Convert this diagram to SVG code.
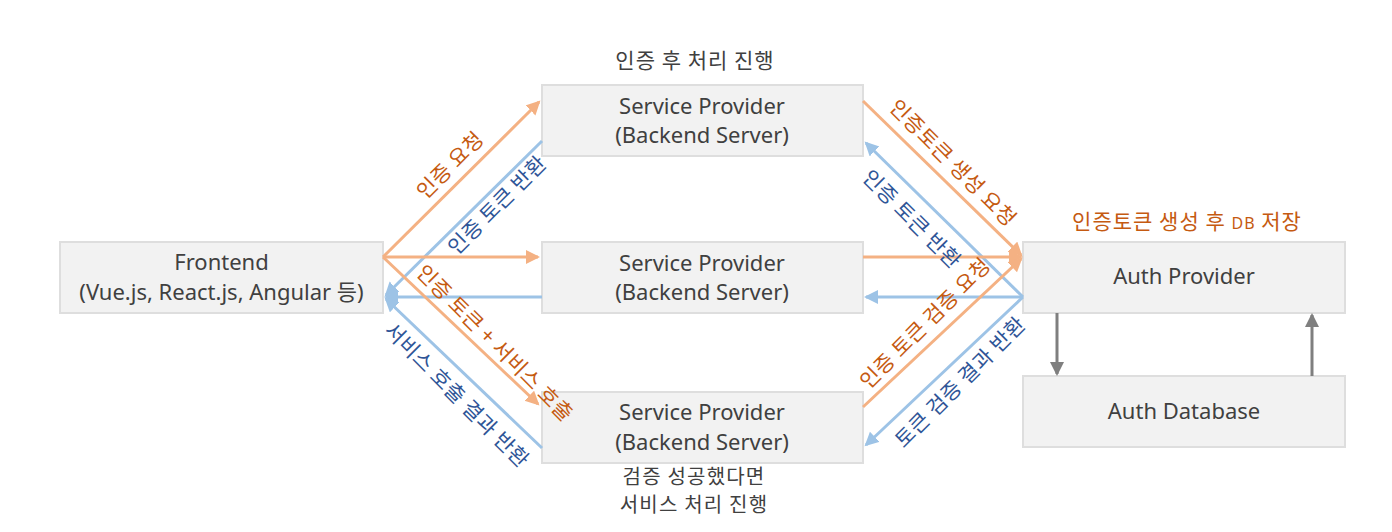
<svg xmlns="http://www.w3.org/2000/svg" width="1392" height="532" viewBox="0 0 1392 532">
<style>
.box{fill:#f2f2f2;stroke:#dedede;stroke-width:2}
.nt{font-family:"Noto Sans","Noto Sans CJK KR",sans-serif;font-size:22px;fill:#404040;text-anchor:middle}
.cap{font-family:"Noto Sans CJK KR","Noto Sans",sans-serif;font-size:21px;letter-spacing:1px;fill:#404040;text-anchor:middle}
.cap2{font-family:"Noto Sans CJK KR","Noto Sans",sans-serif;font-size:20px;letter-spacing:1.2px;fill:#404040;text-anchor:middle}
.lo{font-family:"Noto Sans CJK KR",sans-serif;font-size:21px;letter-spacing:0.5px;fill:#c55a11;text-anchor:middle}
.lb{font-family:"Noto Sans CJK KR",sans-serif;font-size:21px;letter-spacing:0.5px;fill:#2f5597;text-anchor:middle}
.o{stroke:#f4b183;stroke-width:3;fill:none;marker-end:url(#ao)}
.b{stroke:#9dc3e6;stroke-width:3;fill:none;marker-end:url(#ab)}
.g{stroke:#7f7f7f;stroke-width:3;fill:none;marker-end:url(#ag)}
</style>
<defs>
<marker id="ao" markerUnits="userSpaceOnUse" markerWidth="15" markerHeight="15" refX="12" refY="7" orient="auto"><path d="M0,0 L14,7 L0,14 z" fill="#f4b183"/></marker>
<marker id="ab" markerUnits="userSpaceOnUse" markerWidth="15" markerHeight="15" refX="12" refY="7" orient="auto"><path d="M0,0 L14,7 L0,14 z" fill="#9dc3e6"/></marker>
<marker id="ag" markerUnits="userSpaceOnUse" markerWidth="15" markerHeight="15" refX="12" refY="7" orient="auto"><path d="M0,0 L14,7 L0,14 z" fill="#7f7f7f"/></marker>
</defs>

<g id="frontend">
<rect class="box" x="60" y="242" width="323" height="71"/>
<text class="nt" x="221.5" y="270">Frontend</text>
<text class="nt" x="221.5" y="300">(Vue.js, React.js, Angular 등)</text>
</g>
<g id="sp-top">
<rect class="box" x="542" y="85" width="321" height="71"/>
<text class="nt" x="702" y="114">Service Provider</text>
<text class="nt" x="702" y="143">(Backend Server)</text>
</g>
<g id="sp-mid">
<rect class="box" x="542" y="242" width="321" height="71"/>
<text class="nt" x="702" y="271">Service Provider</text>
<text class="nt" x="702" y="300">(Backend Server)</text>
</g>
<g id="sp-bot">
<rect class="box" x="542" y="392" width="321" height="71"/>
<text class="nt" x="702" y="420">Service Provider</text>
<text class="nt" x="702" y="450">(Backend Server)</text>
</g>
<g id="auth-provider">
<rect class="box" x="1023" y="242" width="322" height="71"/>
<text class="nt" x="1184" y="284">Auth Provider</text>
</g>
<g id="auth-db">
<rect class="box" x="1023" y="376" width="322" height="71"/>
<text class="nt" x="1184" y="419">Auth Database</text>
</g>

<g id="captions">
<text class="cap" x="695" y="68">인증 후 처리 진행</text>
<text class="cap2" x="694" y="484">검증 성공했다면</text>
<text class="cap2" x="694" y="512">서비스 처리 진행</text>
<text class="cap" x="1187" y="229" style="fill:#c55a11">인증토큰 생성 후 <tspan font-family="Noto Sans, sans-serif" font-size="16">DB</tspan> 저장</text>
</g>

<g id="connectors">
<line class="o" x1="383" y1="257" x2="539" y2="102"/>
<line class="b" x1="542" y1="141" x2="386" y2="295"/>
<line class="o" x1="383" y1="257" x2="538" y2="257"/>
<line class="b" x1="542" y1="297" x2="386" y2="297"/>
<line class="o" x1="383" y1="257" x2="538" y2="404"/>
<line class="b" x1="542" y1="448" x2="386" y2="299"/>

<line class="o" x1="863" y1="101" x2="1021" y2="255"/>
<line class="b" x1="1023" y1="297" x2="866" y2="143"/>
<line class="o" x1="863" y1="257" x2="1021" y2="257"/>
<line class="b" x1="1023" y1="297" x2="866" y2="297"/>
<line class="o" x1="863" y1="407" x2="1021" y2="259"/>
<line class="b" x1="1023" y1="297" x2="866" y2="445"/>

<line class="g" x1="1057" y1="313" x2="1057" y2="374"/>
<line class="g" x1="1312" y1="376" x2="1312" y2="315"/>
</g>

<g id="labels">
<text class="lo" transform="translate(450,165) rotate(-45)" dy="0.36em">인증 요청</text>
<text class="lb" transform="translate(497,205) rotate(-45)" dy="0.36em">인증 토큰 반환</text>
<text class="lo" transform="translate(495,343) rotate(45)" dy="0.36em">인증 토큰 + 서비스 호출</text>
<text class="lb" transform="translate(457,395) rotate(45)" dy="0.36em">서비스 호출 결과 반환</text>
<text class="lo" transform="translate(953,163) rotate(45)" dy="0.36em">인증토큰 생성 요청</text>
<text class="lb" transform="translate(912,219) rotate(45)" dy="0.36em">인증 토큰 반환</text>
<text class="lo" transform="translate(925,323) rotate(-45)" dy="0.36em">인증 토큰 검증 요청</text>
<text class="lb" transform="translate(960,382) rotate(-45)" dy="0.36em">토큰 검증 결과 반환</text>
</g>
</svg>
